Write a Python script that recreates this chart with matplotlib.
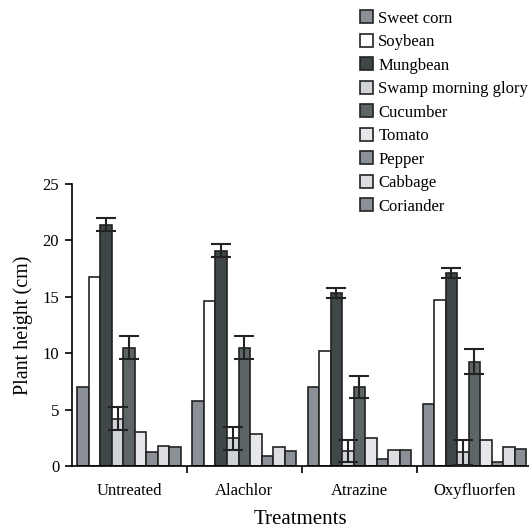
import matplotlib
matplotlib.use("Agg")
import matplotlib.pyplot as plt
import numpy as np

plt.rcParams['font.family'] = ['Liberation Serif', 'DejaVu Serif']

treatments = ["Untreated", "Alachlor", "Atrazine", "Oxyfluorfen"]
crops = ["Sweet corn", "Soybean", "Mungbean", "Swamp morning glory", "Cucumber",
         "Tomato", "Pepper", "Cabbage", "Coriander"]

sweet_corn = [7.0, 5.8, 7.0, 5.5]
soybean = [16.8, 14.65, 10.2, 14.75]
mungbean = [21.4, 19.1, 15.35, 17.1]
swamp_mg = [4.2, 2.45, 1.35, 1.2]
cucumber = [10.5, 10.5, 7.0, 9.25]
tomato = [3.0, 2.87, 2.5, 2.3]
pepper = [1.2, 0.92, 0.65, 0.35]
cabbage = [1.8, 1.65, 1.45, 1.65]
coriander = [1.65, 1.36, 1.45, 1.48]

mungbean_err = [0.55, 0.55, 0.45, 0.45]
swamp_mg_err = [1.0, 1.0, 1.0, 1.1]
cucumber_err = [1.0, 1.0, 1.0, 1.1]

values = [sweet_corn, soybean, mungbean, swamp_mg, cucumber, tomato, pepper, cabbage, coriander]
errors = {2: mungbean_err, 3: swamp_mg_err, 4: cucumber_err}
colors = ["#8b9097", "#ffffff", "#3f4748", "#d0d3d7", "#5e6566",
          "#e6e7ea", "#8b9097", "#dcdee2", "#8b9097"]

fig = plt.figure(figsize=(5.29, 5.28), dpi=100)
ax = fig.add_axes([0.1355, 0.1174, 0.8645, 0.534])

x = np.arange(len(treatments))
w = 0.1
n = len(crops)
for i, (vals, c, name) in enumerate(zip(values, colors, crops)):
    pos = x + (i - (n - 1) / 2) * w
    ax.bar(pos, vals, width=w, color=c, edgecolor="#222222", linewidth=1.2, label=name, zorder=2)
    if i in errors:
        ax.errorbar(pos, vals, yerr=errors[i], fmt="none", ecolor="#222222",
                    elinewidth=1.5, capsize=7.5, capthick=1.5, zorder=3)

ax.set_xlim(-0.5, 3.475)
ax.set_ylim(0, 25)
ax.set_yticks([0, 5, 10, 15, 20, 25])
ax.set_xticks(x)
ax.set_xticklabels(treatments)
ax.set_xticks([0.5, 1.5, 2.5], minor=True)
ax.tick_params(axis="x", which="major", length=0, pad=12, labelsize=12)
ax.tick_params(axis="x", which="minor", length=5, width=1.2, direction="out")
ax.tick_params(axis="y", length=5, width=1.2, labelsize=12, pad=4)
for s in ["top", "right"]:
    ax.spines[s].set_visible(False)
for s in ["left", "bottom"]:
    ax.spines[s].set_linewidth(1.2)

ax.set_ylabel("Plant height (cm)", fontsize=14.5, labelpad=7)
ax.set_xlabel("Treatments", fontsize=15, labelpad=8)

leg = fig.legend(loc="upper left", bbox_to_anchor=(0.668, 0.993), frameon=False,
                 fontsize=12, handlelength=0.8, handleheight=0.8, handletextpad=0.3,
                 labelspacing=0.44, borderaxespad=0)

fig.savefig("out.png", dpi=100)
